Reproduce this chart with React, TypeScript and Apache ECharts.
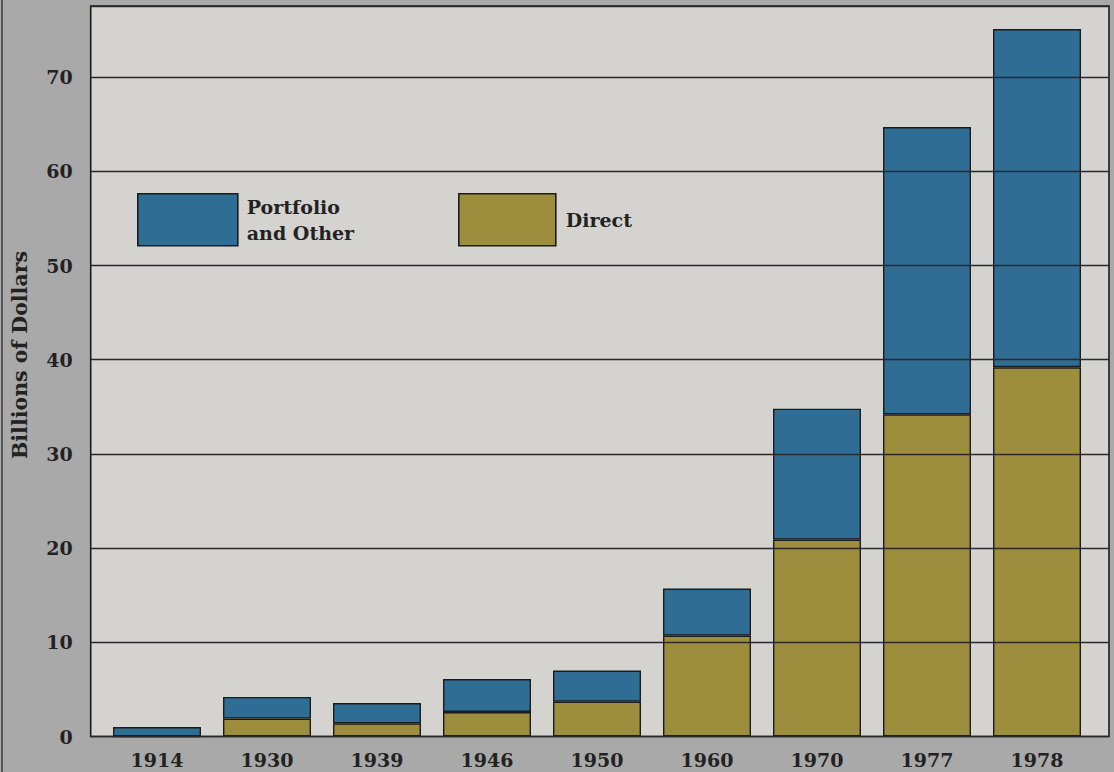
import React, { useEffect, useRef } from "react";
import * as echarts from "echarts";

const years = ["1914", "1930", "1939", "1946", "1950", "1960", "1970", "1977", "1978"];
const direct = [0, 1.9, 1.4, 2.6, 3.7, 10.7, 20.9, 34.2, 39.2];
const portfolio = [1.0, 2.3, 2.15, 3.5, 3.3, 5.0, 13.9, 30.5, 35.9];
const yTicks = [0, 10, 20, 30, 40, 50, 60, 70];

const FONT = "'DejaVu Serif', serif";
const BLUE = "#2f6d95";
const OLIVE = "#9c8e3d";
const EDGE = "#1c1c1c";

export default function App() {
  const ref = useRef<HTMLDivElement>(null);
  useEffect(() => {
    if (!ref.current) return;
    const chart = echarts.init(ref.current, undefined, { renderer: "svg" });
    const yMax = 77.55;
    chart.setOption({
      animation: false,
      backgroundColor: "#a9a9a9",
      graphic: [
        {
          type: "line",
          z: -5,
          shape: { x1: 2, y1: 0, x2: 2, y2: 772 },
          style: { stroke: "#555", lineWidth: 2 },
        },
        {
          type: "rect",
          z: -10,
          shape: { x: 90.7, y: 6, width: 1018.3, height: 730.5 },
          style: { fill: "#d5d3d0", stroke: EDGE, lineWidth: 1.6 },
        },
        {
          type: "text",
          x: 20,
          y: 355,
          rotation: Math.PI / 2,
          style: {
            text: "Billions of Dollars",
            font: `bold 20.5px ${FONT}`,
            fill: "#222",
            textAlign: "center",
            textVerticalAlign: "middle",
          },
        },
      ],
      legend: [
        {
          left: 132,
          top: 188,
          itemWidth: 100,
          itemHeight: 52,
          data: ["Portfolio\nand Other"],
          selectedMode: false,
          textStyle: { fontFamily: FONT, fontWeight: "bold", fontSize: 19, color: "#222", lineHeight: 26, padding: [0, 0, 0, 4] },
          itemStyle: { borderColor: EDGE, borderWidth: 1.6 },
          icon: "rect",
        },
        {
          left: 453,
          top: 188,
          itemWidth: 97,
          itemHeight: 52,
          data: ["Direct"],
          selectedMode: false,
          textStyle: { fontFamily: FONT, fontWeight: "bold", fontSize: 19, color: "#222", padding: [0, 0, 8, 5] },
          itemStyle: { borderColor: EDGE, borderWidth: 1.6 },
          icon: "rect",
        },
      ],
      grid: [
        { left: 90.7, right: 5, top: 6, height: 730.5 },
        { left: 102, right: 22, top: 6, height: 730.5 },
      ],
      xAxis: [
        { gridIndex: 0, type: "value", show: false, min: 0, max: 1 },
        {
          gridIndex: 1,
          type: "category",
          data: years,
          axisLine: { show: false },
          axisTick: { show: false },
          axisLabel: {
            fontFamily: FONT,
            fontWeight: "bold",
            fontSize: 19,
            color: "#222",
            margin: 14,
          },
        },
      ],
      yAxis: [
        {
          gridIndex: 0,
          type: "value",
          min: 0,
          max: yMax,
          interval: 10,
          z: 5,
          axisLine: { show: false },
          axisTick: { show: false },
          axisLabel: {
            fontFamily: FONT,
            fontWeight: "bold",
            fontSize: 19,
            color: "#222",
            margin: 18,
            showMaxLabel: false,
            formatter: (v: number) => (yTicks.includes(v) ? String(v) : ""),
          },
          splitLine: { show: true, lineStyle: { color: "#2a2a2a", width: 1.3 } },
        },
        { gridIndex: 1, type: "value", min: 0, max: yMax, show: false },
      ],
      series: [
        {
          name: "Direct",
          type: "bar",
          stack: "total",
          xAxisIndex: 1,
          yAxisIndex: 1,
          barWidth: 88,
          data: direct,
          itemStyle: { color: OLIVE, borderColor: EDGE, borderWidth: 1.4 },
        },
        {
          name: "Portfolio\nand Other",
          type: "bar",
          stack: "total",
          xAxisIndex: 1,
          yAxisIndex: 1,
          barWidth: 88,
          data: portfolio,
          itemStyle: { color: BLUE, borderColor: EDGE, borderWidth: 1.4 },
        },
      ],
    });
    return () => chart.dispose();
  }, []);
  return (
    <div
      ref={ref}
      style={{ position: "absolute", left: 0, top: 0, width: 1114, height: 772 }}
    />
  );
}
